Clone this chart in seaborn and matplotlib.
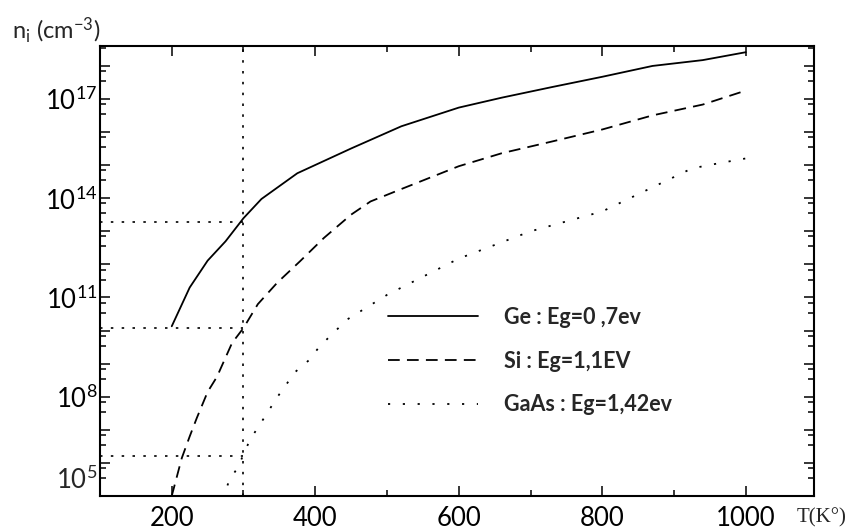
import numpy as np
import pandas as pd
import seaborn as sns
import matplotlib.pyplot as plt
from matplotlib.ticker import FixedLocator, FuncFormatter


# values
ge_T = [200, 225, 250, 275, 300, 325, 375, 450, 520, 600, 660, 730, 800, 870, 940, 1000]
ge_ni = [1.35e10, 2e11, 1.3e12, 5e12, 2.5e13, 9.5e13, 5.7e14, 3.2e15, 1.5e16,
         5.5e16, 1.1e17, 2.3e17, 4.7e17, 1e18, 1.5e18, 2.6e18]

si_T = [200, 214, 225, 235, 250, 263, 284, 300, 320, 347, 379, 412, 450, 477,
        520, 600, 660, 730, 800, 870, 940, 1000]
si_ni = [1e5, 1.4e6, 6.3e6, 2.3e7, 1.4e8, 4e8, 4.2e9, 1.2e10, 6.3e10, 2.8e11,
         1.26e12, 6.3e12, 3.2e13, 8e13, 1.9e14, 9.3e14, 2.3e15, 5.2e15, 1.2e16,
         3.2e16, 6.8e16, 1.8e17]

gaas_T = [270, 281, 292, 309, 321, 333, 346, 358, 372, 391, 406, 424, 445, 500,
          600, 700, 800, 925, 963, 1000]
gaas_ni = [8e4, 3.2e5, 7.2e5, 5e6, 1.26e7, 3.2e7, 9e7, 2.1e8, 5.6e8, 1.26e9,
           3.3e9, 8e9, 2.2e10, 1.2e11, 1.5e12, 1e13, 4e13, 8e14, 1.15e15, 1.6e15]

labels = ["Ge : Eg=0 ,7ev", "Si : Eg=1,1EV", "GaAs : Eg=1,42ev"]

ref_T = 300
ref_ni = [1.95e13, 1.17e10, 1.6e6]

x_major = [200, 400, 600, 800, 1000]
x_minor = [300, 500, 700, 900]
y_labelled = [8, 11, 14, 17]


sns.set_style("ticks")
plt.rcParams["font.family"] = ["Lato", "DejaVu Sans"]
plt.rcParams["mathtext.fontset"] = "custom"
plt.rcParams["mathtext.rm"] = "Lato"
plt.rcParams["mathtext.default"] = "regular"

fig = plt.figure(figsize=(8.56, 5.32), dpi=100)
ax = fig.add_axes([0.1168, 0.0677, 0.8341, 0.8458])

curves = [
    (ge_T, ge_ni, "-"),
    (si_T, si_ni, (0, (6.5, 4))),
    (gaas_T, gaas_ni, (0, (1.2, 7))),
]
for (T, ni, ls), lab in zip(curves, labels):
    df = pd.DataFrame({"T": T, "ni": ni})
    sns.lineplot(data=df, x="T", y="ni", ax=ax, color="black",
                 linestyle=ls, linewidth=1.3, label=lab)

ax.set_yscale("log")
ax.set_xlim(100, 1095)
ax.set_ylim(1e5, 4e18)
ax.set_xlabel("")
ax.set_ylabel("")

# reference lines at 300 K
ax.hlines(ref_ni, 100, ref_T, colors="black", linestyles=(0, (1.5, 5)), linewidth=1.2)
ax.axvline(ref_T, color="black", linestyle=(0, (1.5, 5)), linewidth=1.2)

ax.xaxis.set_major_locator(FixedLocator(x_major))
ax.xaxis.set_minor_locator(FixedLocator(x_minor))
ax.yaxis.set_major_locator(FixedLocator([10.0 ** k for k in range(5, 19)]))
ax.yaxis.set_minor_locator(FixedLocator([m * 10.0 ** k for k in range(4, 19) for m in (3.5, 7)]))


def ylab(v, pos):
    k = int(round(np.log10(v)))
    return r"$10^{%d}$" % k if k in y_labelled else ""


ax.yaxis.set_major_formatter(FuncFormatter(ylab))
ax.yaxis.set_minor_formatter(FuncFormatter(lambda v, p: ""))

ax.tick_params(which="both", direction="in", bottom=True, left=True, top=True, right=True,
               width=1.1, color="black", labelcolor="black")
ax.tick_params(which="major", length=7.5, labelsize=18.5)
ax.tick_params(which="minor", length=4.5)
ax.tick_params(axis="x", pad=7)
ax.tick_params(axis="y", pad=2)
for s in ax.spines.values():
    s.set_linewidth(1.5)
    s.set_color("black")
ax.set_axisbelow(False)

# 10^5 label sits a bit above its tick in the original
ax.annotate(r"$10^{5}$", xy=(0, 1e5), xycoords=("axes fraction", "data"),
            xytext=(-3, 16), textcoords="offset pixels", ha="right", va="center",
            fontsize=18.5)

fig.text(12 / 856, 1 - 30 / 532, r"n$_{i}$ (cm$^{-3}$)", fontsize=17, va="center", ha="left")
fig.text(797 / 856, 1 - 518 / 532, "T(K°)", fontsize=15, va="center", ha="left",
         family=["Liberation Serif", "DejaVu Serif"])

ax.legend(loc="upper left", bbox_to_anchor=(0.403, 0.42), frameon=False,
          prop={"weight": "bold", "size": 15.5}, handlelength=4.2, handletextpad=1.2,
          labelspacing=1.05, borderpad=0, borderaxespad=0)

fig.savefig("out.png", dpi=100)
